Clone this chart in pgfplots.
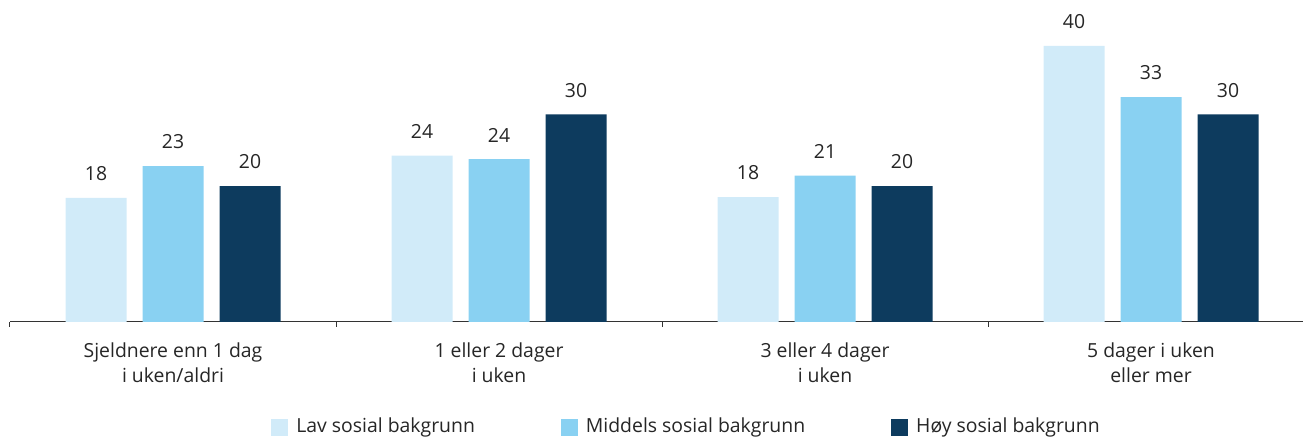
\documentclass[border=0pt]{standalone}
\usepackage{fontspec}
\setmainfont{Open Sans}
\usepackage{pgfplots}
\pgfplotsset{compat=1.18}
\definecolor{lav}{HTML}{D1EBF9}
\definecolor{middels}{HTML}{89D1F2}
\definecolor{hoy}{HTML}{0D3B5E}
\begin{document}
\begin{tikzpicture}[font=\fontsize{9.7}{12}\selectfont]
\path[use as bounding box] (-5pt,-58.5pt) rectangle (646.5pt,161pt);
\begin{axis}[
    scale only axis,
    x=163pt, y=3.45pt,
    xmin=-0.5, xmax=3.5,
    ymin=0, ymax=46.7,
    ybar=8pt,
    bar width=30.5pt,
    axis x line=bottom,
    axis y line=none,
    axis line style={-, black!80, line width=0.5pt},
    xtick={0,1,2,3},
    xticklabels={{Sjeldnere enn 1 dag\\i uken/aldri},{1 eller 2 dager\\i uken},{3 eller 4 dager\\i uken},{5 dager i uken\\eller mer}},
    xticklabel style={align=center, text=black!85, yshift=-7pt, font=\fontsize{9.7}{12.2}\selectfont},
    major tick length=0pt,
    extra x ticks={-0.5,0.5,1.5,2.5,3.5},
    extra x tick labels={},
    extra x tick style={major tick length=2.5pt, tick align=outside, tick style={black!80, line width=0.5pt}},
    nodes near coords,
    /pgf/number format/fixed,
    /pgf/number format/precision=0,
    /pgf/number format/assume math mode=true,
    every node near coord/.append style={text=black!85, yshift=5pt, font=\fontsize{9.7}{12}\selectfont},
    legend columns=3,
    legend style={draw=none, at={(0.518,-52.5pt)}, anchor=center, text=black!85,
        font=\fontsize{9.7}{12}\selectfont,
        nodes={inner xsep=0pt},
        /tikz/every odd column/.append style={column sep=4pt},
        /tikz/every even column/.append style={column sep=43pt}},
    legend image code/.code={\fill[#1, draw=none] (0pt,-4.25pt) rectangle (8.5pt,4.25pt);},
]
\addplot[fill=lav, draw=none] coordinates {(0,18.0) (1,24.1) (2,18.1) (3,40.0)};
\addplot[fill=middels, draw=none] coordinates {(0,22.6) (1,23.6) (2,21.2) (3,32.6)};
\addplot[fill=hoy, draw=none] coordinates {(0,19.7) (1,30.1) (2,19.7) (3,30.1)};
\legend{Lav sosial bakgrunn, Middels sosial bakgrunn, Høy sosial bakgrunn}
\end{axis}
\end{tikzpicture}
\end{document}
